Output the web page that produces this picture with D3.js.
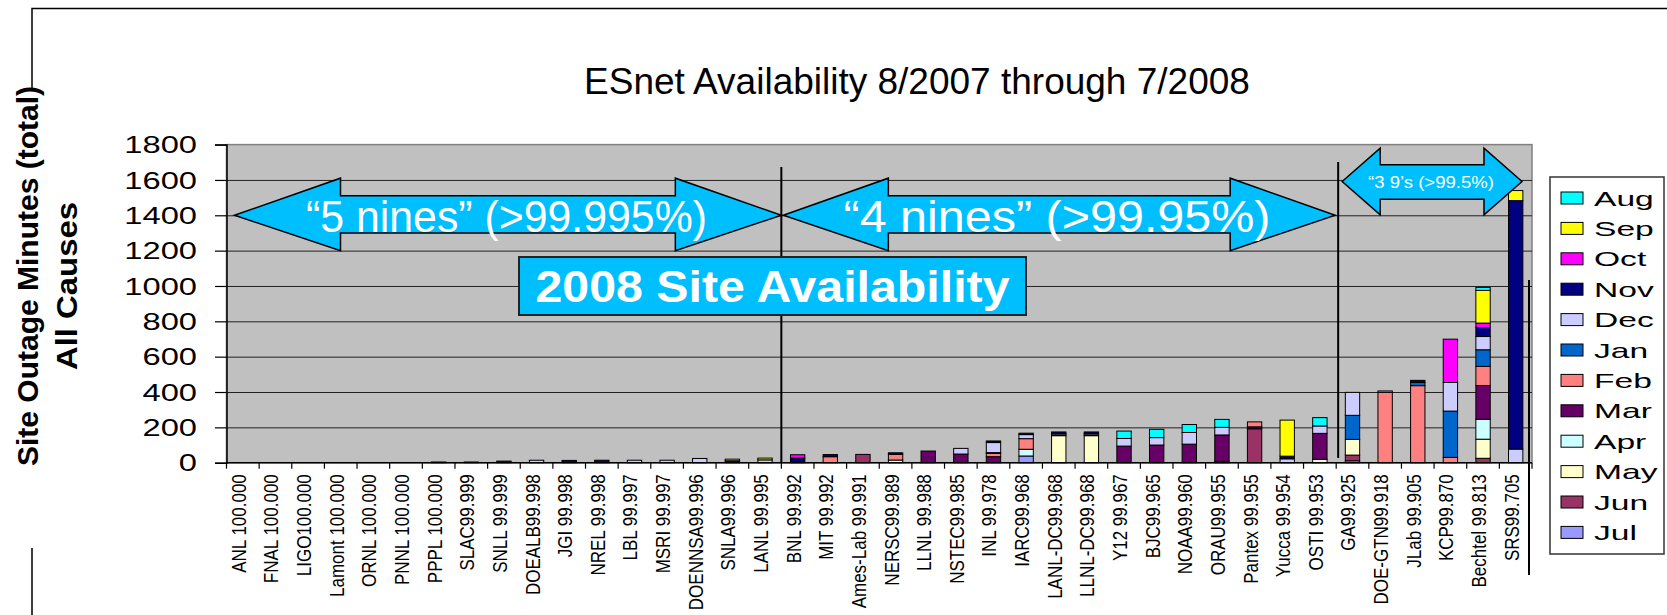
<!DOCTYPE html>
<html>
<head>
<meta charset="utf-8">
<script src="https://cdn.jsdelivr.net/npm/d3@7"></script>
<style>
  body { margin: 0; background: #fff; }
  svg { font-family: "Liberation Sans", Arial, sans-serif; }
</style>
</head>
<body>
<svg width="1667" height="615"></svg>
<script>
// sites, in the order of the x axis
var sites = ["ANL 100.000", "FNAL 100.000", "LIGO100.000", "Lamont 100.000", "ORNL 100.000",
  "PNNL 100.000", "PPPL 100.000", "SLAC99.999", "SNLL 99.999", "DOEALB99.998",
  "JGI 99.998", "NREL 99.998", "LBL 99.997", "MSRI 99.997", "DOENNSA99.996",
  "SNLA99.996", "LANL 99.995", "BNL 99.992", "MIT 99.992", "Ames-Lab 99.991",
  "NERSC99.989", "LLNL 99.988", "NSTEC99.985", "INL 99.978", "IARC99.968",
  "LANL-DC99.968", "LLNL-DC99.968", "Y12 99.967", "BJC99.965", "NOAA99.960",
  "ORAU99.955", "Pantex 99.955", "Yucca 99.954", "OSTI 99.953", "GA99.925",
  "DOE-GTN99.918", "JLab 99.905", "KCP99.870", "Bechtel 99.813", "SRS99.705"];

var months = ["Aug", "Sep", "Oct", "Nov", "Dec", "Jan", "Feb", "Mar", "Apr", "May", "Jun", "Jul"];

// outage minutes per month, one value per site
var aug = [0,0,0,0,0,0,0,0,0,0, 0,0,0,0,0,0,0,0,0,0, 0,0,0,0,0,0,0,42,47,45, 45,0,0,47,0,0,0,0,17,0];
var sep = [0,0,0,0,0,0,0,0,0,0, 0,0,0,0,0,9,10,0,0,0, 0,0,0,0,0,0,0,0,0,0, 0,0,204,0,0,0,0,0,185,57];
var oct = [0,0,0,0,0,0,0,0,0,0, 0,0,0,0,0,0,0,19,0,0, 0,0,0,0,0,0,0,0,0,0, 0,0,0,0,0,0,0,245,25,0];
var nov = [0,0,0,0,0,0,4,4,9,0, 13,14,0,0,0,11,0,26,12,0, 9,0,0,9,8,8,8,0,0,0, 0,0,15,0,0,0,12,0,51,1406];
var dec = [0,0,0,0,0,0,0,0,0,14, 0,0,14,14,24,0,16,0,0,0, 0,0,32,57,23,8,8,43,42,66, 43,0,22,42,130,8,0,162,75,77];
var jan = [0,0,0,0,0,0,0,0,0,0, 0,0,0,0,0,0,0,0,0,0, 0,0,0,4,0,5,5,0,0,0, 0,0,0,0,136,0,18,262,94,0];
var feb = [0,0,0,0,0,0,0,0,0,0, 0,0,0,0,0,0,0,0,34,0, 32,0,0,19,60,0,0,0,0,0, 0,28,0,0,0,398,436,30,108,0];
var mar = [0,0,0,0,0,0,0,0,0,0, 0,0,0,0,0,0,0,0,0,0, 0,66,49,34,0,0,0,94,100,105, 149,11,0,147,0,0,0,0,191,0];
var apr = [0,0,0,0,0,0,0,0,0,0, 0,0,0,0,0,0,0,0,0,0, 0,0,0,0,38,0,0,0,0,0, 0,0,0,0,0,0,0,0,113,0];
var may = [0,0,0,0,0,0,0,0,0,0, 0,0,0,0,0,0,0,0,0,0, 15,0,0,0,0,153,153,0,0,0, 8,0,0,19,89,0,0,0,108,0];
var jun = [0,0,0,0,0,0,0,0,0,0, 0,0,0,0,0,0,0,0,0,47, 0,0,0,0,0,0,0,0,0,0, 0,192,0,0,32,0,0,0,25,0];
var jul = [0,0,0,0,0,0,0,0,0,0, 0,0,0,0,0,0,0,0,0,0, 0,0,0,0,38,0,0,0,0,0, 0,0,0,0,11,0,0,0,0,0];

var yTicks = [0, 200, 400, 600, 800, 1000, 1200, 1400, 1600, 1800];

var colors = {
  Aug: "#00ffff", Sep: "#ffff00", Oct: "#ff00ff", Nov: "#000080",
  Dec: "#ccccff", Jan: "#0066cc", Feb: "#ff8080", Mar: "#660066",
  Apr: "#ccffff", May: "#ffffcc", Jun: "#993366", Jul: "#9999ff"
};
var calloutBlue = "#00bfff";

var series = { Aug: aug, Sep: sep, Oct: oct, Nov: nov, Dec: dec, Jan: jan,
  Feb: feb, Mar: mar, Apr: apr, May: may, Jun: jun, Jul: jul };

var table = sites.map(function(s, i) {
  var row = { site: s };
  months.forEach(function(m) { row[m] = series[m][i]; });
  return row;
});

var svg = d3.select("svg"),
    plotLeft = 226.5, plotRight = 1532, plotTop = 144.6, plotBottom = 462.7;

var x = d3.scaleBand()
    .domain(sites)
    .range([plotLeft, plotRight])
    .paddingInner(0.56)
    .paddingOuter(0.28);

var y = d3.scaleLinear()
    .domain([0, 1800])
    .range([plotBottom, plotTop]);

// boundary between categories i-1 and i
function edge(i) { return plotLeft + i * x.step(); }

// outer frame of the slide
svg.append("path")
    .attr("d", "M32,90 L32,8.5 L1667,8.5 M32,548 L32,615")
    .attr("fill", "none").attr("stroke", "#000").attr("stroke-width", 1.5);

// title
svg.append("text")
    .attr("x", 917).attr("y", 93.5)
    .attr("text-anchor", "middle")
    .style("font-size", "37px")
    .text("ESnet Availability 8/2007 through 7/2008");

// plot area
svg.append("rect")
    .attr("x", plotLeft).attr("y", plotTop)
    .attr("width", plotRight - plotLeft).attr("height", plotBottom - plotTop)
    .attr("fill", "#c0c0c0").attr("stroke", "#808080").attr("stroke-width", 1.5);

// gridlines
svg.append("g")
    .attr("transform", "translate(" + plotLeft + ",0)")
    .call(d3.axisLeft(y).tickValues(yTicks.slice(1, -1)).tickSize(-(plotRight - plotLeft)).tickFormat(""))
    .call(function(g) { g.select(".domain").remove(); })
    .selectAll("line").attr("stroke", "#222").attr("stroke-width", 1);

// y axis
var yAxis = svg.append("g")
    .attr("transform", "translate(" + plotLeft + ",0)")
    .call(d3.axisLeft(y).tickValues(yTicks).tickFormat(d3.format("d")).tickSize(11.5).tickPadding(0));
yAxis.select(".domain").attr("stroke", "#000").attr("stroke-width", 1.5);
yAxis.selectAll("line").attr("stroke", "#000").attr("stroke-width", 1.2);
yAxis.selectAll("text")
    .attr("x", 0).attr("dy", "0.36em")
    .attr("transform", "translate(-29.5,0) scale(1.42,1)")
    .attr("fill", "#000")
    .style("font-size", "23px")
    .style("font-family", "'Liberation Sans', Arial, sans-serif");

// stacked bars
var stack = d3.stack().keys(months.slice().reverse());
svg.append("g")
  .selectAll("g")
  .data(stack(table))
  .enter().append("g")
    .attr("fill", function(d) { return colors[d.key]; })
  .selectAll("rect")
  .data(function(d) { return d.filter(function(p) { return p[1] > p[0]; }); })
  .enter().append("rect")
    .attr("x", function(d) { return x(d.data.site); })
    .attr("y", function(d) { return y(d[1]); })
    .attr("width", x.bandwidth())
    .attr("height", function(d) { return y(d[0]) - y(d[1]); })
    .attr("stroke", "#000").attr("stroke-width", 1);

// x axis: labels under bars, ticks on the category edges
var xAxis = svg.append("g")
    .attr("transform", "translate(0," + plotBottom + ")")
    .call(d3.axisBottom(x).tickSize(0).tickPadding(0));
xAxis.select(".domain").remove();
xAxis.selectAll("text")
    .attr("x", 0).attr("y", 0).attr("dy", 0)
    .attr("text-anchor", "end")
    .attr("transform", "translate(3,11.5) scale(1.2,1) rotate(-90)")
    .attr("fill", "#000")
    .style("font-size", "17px")
    .style("font-family", "'Liberation Sans', Arial, sans-serif");

svg.append("line")
    .attr("x1", plotLeft).attr("x2", plotRight).attr("y1", plotBottom).attr("y2", plotBottom)
    .attr("stroke", "#000").attr("stroke-width", 1.5);
svg.append("g")
  .selectAll("line")
  .data(d3.range(sites.length + 1))
  .enter().append("line")
    .attr("x1", edge).attr("x2", edge)
    .attr("y1", plotBottom).attr("y2", plotBottom + 6)
    .attr("stroke", "#000").attr("stroke-width", 1.2);

// y axis title
var yTitle = svg.append("g").style("font-weight", "bold").style("font-size", "30px");
yTitle.append("text")
    .attr("text-anchor", "middle")
    .attr("transform", "translate(38,276) rotate(-90)")
    .text("Site Outage Minutes (total)");
yTitle.append("text")
    .attr("text-anchor", "middle")
    .attr("textLength", 168).attr("lengthAdjust", "spacingAndGlyphs")
    .attr("transform", "translate(77,286) rotate(-90)")
    .text("All Causes");

// divider lines between availability groups
var dividers = [
  { x: edge(17), y1: 167, y2: plotBottom },
  { x: edge(34) + 2, y1: 162, y2: 458 },
  { x: edge(40) - 3, y1: 280, y2: 575 }
];
svg.append("g")
  .selectAll("line")
  .data(dividers)
  .enter().append("line")
    .attr("x1", function(d) { return d.x; }).attr("x2", function(d) { return d.x; })
    .attr("y1", function(d) { return d.y1; }).attr("y2", function(d) { return d.y2; })
    .attr("stroke", "#000").attr("stroke-width", 2);

// double headed arrows
function dblArrow(x1, x2, tip, headTop, headBot, shaftTop, shaftBot, head) {
  var pts = [
    [x1, y(tip)], [x1 + head, y(headTop)], [x1 + head, y(shaftTop)],
    [x2 - head, y(shaftTop)], [x2 - head, y(headTop)], [x2, y(tip)],
    [x2 - head, y(headBot)], [x2 - head, y(shaftBot)], [x1 + head, y(shaftBot)],
    [x1 + head, y(headBot)]
  ];
  svg.append("polygon")
      .attr("points", pts.map(function(p) { return p.join(","); }).join(" "))
      .attr("fill", calloutBlue).attr("stroke", "#000").attr("stroke-width", 1.5);
}

dblArrow(edge(0) + 8, edge(17), 1400, 1610, 1200, 1510, 1300, 106);
dblArrow(edge(17) + 2, edge(34) - 1, 1400, 1610, 1200, 1510, 1300, 105);
dblArrow(edge(34) + 6, edge(40) - 10, 1591, 1780, 1402, 1686, 1491, 38);

svg.append("text")
    .attr("x", 506.5).attr("y", 231.5)
    .attr("text-anchor", "middle").attr("fill", "#fff")
    .attr("textLength", 401).attr("lengthAdjust", "spacingAndGlyphs")
    .style("font-size", "44px")
    .text("\u201c5 nines\u201d (>99.995%)");
svg.append("text")
    .attr("x", 1057).attr("y", 231.5)
    .attr("text-anchor", "middle").attr("fill", "#fff")
    .attr("textLength", 427).attr("lengthAdjust", "spacingAndGlyphs")
    .style("font-size", "44px")
    .text("\u201c4 nines\u201d (>99.95%)");
svg.append("text")
    .attr("x", 1431).attr("y", 188)
    .attr("text-anchor", "middle").attr("fill", "#fff")
    .attr("textLength", 126).attr("lengthAdjust", "spacingAndGlyphs")
    .style("font-size", "17px")
    .text("\u201c3 9\u2019s (>99.5%)");

// title box
svg.append("rect")
    .attr("x", 519).attr("y", 257)
    .attr("width", 507).attr("height", 58)
    .attr("fill", calloutBlue).attr("stroke", "#222").attr("stroke-width", 2);
svg.append("text")
    .attr("x", 772.5).attr("y", 302)
    .attr("text-anchor", "middle").attr("fill", "#fff")
    .attr("textLength", 474).attr("lengthAdjust", "spacingAndGlyphs")
    .style("font-size", "44px").style("font-weight", "bold")
    .text("2008 Site Availability");

// legend
var legend = svg.append("g");
legend.append("rect")
    .attr("x", 1550).attr("y", 177)
    .attr("width", 114).attr("height", 377)
    .attr("fill", "#fff").attr("stroke", "#333").attr("stroke-width", 1.5);
var item = legend.selectAll("g.item")
  .data(months)
  .enter().append("g")
    .attr("class", "item")
    .attr("transform", function(d, i) { return "translate(0," + (198 + i * 30.4) + ")"; });
item.append("rect")
    .attr("x", 1561).attr("y", -6)
    .attr("width", 22).attr("height", 12)
    .attr("fill", function(d) { return colors[d]; })
    .attr("stroke", "#000").attr("stroke-width", 1);
item.append("text")
    .attr("transform", "translate(1594,0) scale(1.6,1)")
    .attr("dy", "0.36em")
    .style("font-size", "21px")
    .text(function(d) { return d; });
</script>
</body>
</html>
